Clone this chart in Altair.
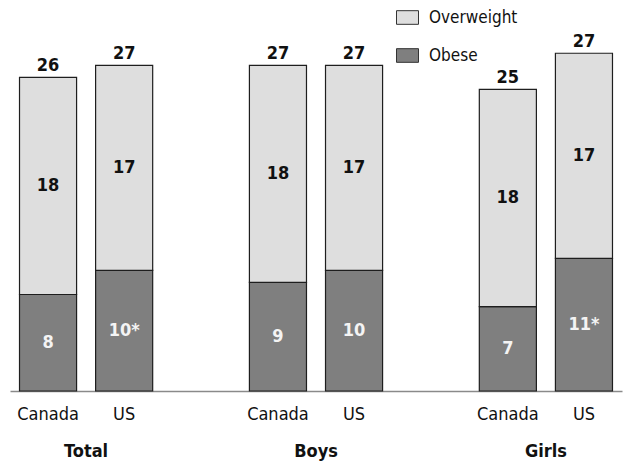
import altair as alt
import pandas as pd

# Overweight and obesity prevalence (%), Canada vs US
groups = ["Total", "Total", "Boys", "Boys", "Girls", "Girls"]
countries = ["Canada", "US", "Canada", "US", "Canada", "US"]
obese = [8, 10, 9, 10, 7, 11]
overweight = [18, 17, 18, 17, 18, 17]
totals = [26, 27, 27, 27, 25, 27]
significant = [False, True, False, False, False, True]

group_order = ["Total", "Boys", "Girls"]
country_order = ["Canada", "US"]
category_order = ["Overweight", "Obese"]

FONT = "'DejaVu Sans Condensed', 'Liberation Sans', sans-serif"
W, H = 612, 386

rows = []
for g, c, ob, ow, sig in zip(groups, countries, obese, overweight, significant):
    rows.append({"group": g, "country": c, "category": "Obese", "value": ob,
                 "order": 0, "label": f"{ob}*" if sig else f"{ob}"})
    rows.append({"group": g, "country": c, "category": "Overweight", "value": ow,
                 "order": 1, "label": f"{ow}"})
seg = pd.DataFrame(rows)

tot = pd.DataFrame({
    "group": groups,
    "country": countries,
    "top": [o + w for o, w in zip(obese, overweight)],
    "label": [str(t) for t in totals],
})

x_enc = alt.X("group:N", sort=group_order,
              scale=alt.Scale(paddingInner=0.338, paddingOuter=0),
              axis=alt.Axis(title=None, labels=False, ticks=False,
                            domainColor="#8a8a8a", domainWidth=1.5))
xo_enc = alt.XOffset("country:N", sort=country_order,
                     scale=alt.Scale(paddingInner=0.25, paddingOuter=0.125))
y_scale = alt.Scale(domain=[0, 32])

base = alt.Chart(seg).transform_stack(
    stack="value", groupby=["group", "country"], as_=["start", "end"],
    sort=[alt.SortField("order", order="ascending")]
).transform_calculate(mid="(datum.start + datum.end) / 2")

bars = base.mark_bar(stroke="#1e1e1e", strokeWidth=1.2).encode(
    x=x_enc,
    xOffset=xo_enc,
    y=alt.Y("start:Q", scale=y_scale, axis=None),
    y2="end:Q",
    color=alt.Color(
        "category:N",
        scale=alt.Scale(domain=category_order, range=["#dedede", "#7f7f7f"]),
        legend=alt.Legend(
            title=None, orient="none", legendX=386, legendY=1,
            symbolType="M-1,-0.62H1V0.62H-1Z", symbolSize=484,
            symbolStrokeColor="#333333", symbolStrokeWidth=1,
            symbolOpacity=1, labelFont=FONT, labelFontSize=17,
            labelColor="#111111", labelOffset=10, rowPadding=17,
            padding=0,
        ),
    ),
)

over_text = base.transform_filter(alt.datum.category == "Overweight").mark_text(
    font=FONT, fontSize=18, fontWeight="bold", color="#111111", baseline="middle"
).encode(x=x_enc, xOffset=xo_enc, y=alt.Y("mid:Q", scale=y_scale), text="label:N")

obese_text = base.transform_filter(alt.datum.category == "Obese").mark_text(
    font=FONT, fontSize=18, fontWeight="bold", color="#f4f4f4", baseline="middle"
).encode(x=x_enc, xOffset=xo_enc, y=alt.Y("mid:Q", scale=y_scale), text="label:N")

total_text = alt.Chart(tot).mark_text(
    font=FONT, fontSize=18, fontWeight="bold", color="#111111",
    baseline="bottom", dy=-2
).encode(x=x_enc, xOffset=xo_enc, y=alt.Y("top:Q", scale=y_scale), text="label:N")

country_text = alt.Chart(tot).mark_text(
    font=FONT, fontSize=18, color="#111111", baseline="middle"
).encode(x=x_enc, xOffset=xo_enc, y=alt.value(H + 24), text="country:N")

group_df = pd.DataFrame({"group": group_order})
group_text = alt.Chart(group_df).mark_text(
    font=FONT, fontSize=18, fontWeight="bold", color="#111111", baseline="middle"
).encode(x=x_enc, y=alt.value(H + 61), text="group:N")

chart = alt.layer(
    bars, over_text, obese_text, total_text, country_text, group_text
).properties(
    width=W, height=H,
    autosize="none",
    padding={"left": 10, "top": 5, "right": 2, "bottom": 75},
    background="white",
).configure_view(stroke=None)

chart.save("out.html", embed_options={"renderer": "svg", "actions": False})
